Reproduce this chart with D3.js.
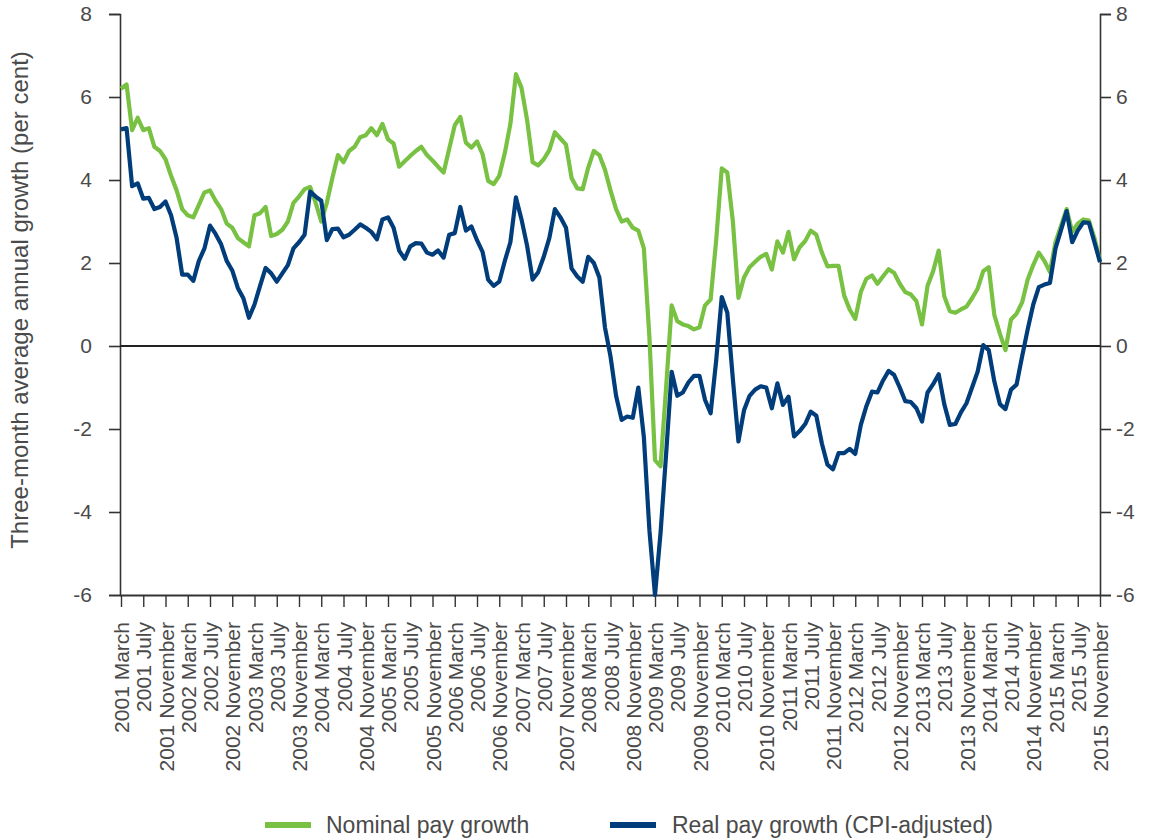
<!DOCTYPE html>
<html><head><meta charset="utf-8">
<script src="https://cdn.jsdelivr.net/npm/d3@7"></script>
<style>
html,body{margin:0;padding:0;background:#fff;}
text{font-family:"Liberation Sans",Arial,sans-serif;fill:#4a4a4a;}
</style></head>
<body><svg id="chart" width="1169" height="838"></svg>
<script>
// ---- data ----
const monthNames = ["January","February","March","April","May","June","July","August","September","October","November","December"];
const startYear = 2001, startMonth = 2; // March 2001
const nominal = [6.2,6.3,5.2,5.5,5.2,5.25,4.8,4.7,4.5,4.1,3.75,3.3,3.15,3.1,3.4,3.7,3.75,3.5,3.3,2.95,2.85,2.6,2.5,2.4,3.15,3.2,3.35,2.65,2.7,2.8,
3.0,3.45,3.6,3.78,3.83,3.45,3.0,3.45,4.05,4.6,4.43,4.7,4.8,5.03,5.08,5.25,5.08,5.35,4.98,4.88,4.32,4.45,4.58,4.7,4.8,4.6,4.47,4.32,4.18,4.75,
5.32,5.52,4.9,4.78,4.93,4.62,3.98,3.9,4.1,4.65,5.35,6.55,6.22,5.45,4.43,4.35,4.5,4.72,5.15,5.0,4.85,4.05,3.8,3.78,4.3,4.7,4.6,4.25,3.75,3.3,
3.0,3.05,2.85,2.78,2.35,0.2,-2.75,-2.9,-1.0,0.98,0.6,0.52,0.48,0.4,0.45,0.98,1.12,2.55,4.28,4.18,3.0,1.16,1.65,1.9,2.03,2.15,2.22,1.84,2.52,2.25,
2.75,2.09,2.38,2.53,2.78,2.68,2.25,1.92,1.93,1.93,1.22,0.88,0.65,1.3,1.62,1.7,1.5,1.68,1.85,1.76,1.5,1.3,1.24,1.08,0.52,1.45,1.8,2.3,1.2,0.84,
0.8,0.88,0.95,1.15,1.38,1.8,1.9,0.75,0.3,-0.1,0.64,0.78,1.05,1.6,1.95,2.25,2.05,1.78,2.5,2.9,3.3,2.75,2.95,3.05,3.02,2.6,2.05];
const real = [5.22,5.25,3.85,3.92,3.55,3.57,3.3,3.35,3.48,3.15,2.6,1.72,1.72,1.57,2.05,2.35,2.9,2.7,2.45,2.05,1.82,1.4,1.15,0.68,1.0,1.45,1.88,1.75,1.55,1.75,
1.95,2.35,2.5,2.68,3.72,3.6,3.5,2.55,2.82,2.83,2.62,2.68,2.8,2.93,2.85,2.75,2.57,3.05,3.1,2.85,2.3,2.1,2.4,2.48,2.47,2.25,2.2,2.3,2.13,2.68,
2.72,3.35,2.78,2.88,2.55,2.27,1.6,1.45,1.55,2.05,2.5,3.58,3.05,2.42,1.6,1.78,2.15,2.6,3.3,3.1,2.85,1.87,1.68,1.55,2.15,2.0,1.65,0.45,-0.25,-1.2,
-1.78,-1.7,-1.73,-1.0,-2.2,-4.45,-6.0,-4.5,-2.6,-0.62,-1.2,-1.12,-0.88,-0.72,-0.72,-1.3,-1.62,-0.35,1.18,0.8,-0.8,-2.3,-1.55,-1.2,-1.05,-0.97,-1.0,-1.5,-0.9,-1.42,
-1.22,-2.18,-2.05,-1.88,-1.58,-1.68,-2.35,-2.86,-2.97,-2.58,-2.58,-2.48,-2.6,-1.9,-1.45,-1.1,-1.12,-0.83,-0.6,-0.7,-1.0,-1.33,-1.35,-1.5,-1.82,-1.12,-0.92,-0.68,-1.4,-1.9,
-1.88,-1.6,-1.38,-1.0,-0.62,0.02,-0.1,-0.85,-1.4,-1.52,-1.05,-0.93,-0.25,0.4,1.0,1.42,1.48,1.52,2.35,2.8,3.25,2.5,2.78,2.98,2.97,2.5,2.02];
const months = nominal.map((_, i) => {
  const m = startMonth + i;
  return (startYear + Math.floor(m / 12)) + " " + monthNames[m % 12];
});
const tickLabels = months.filter((_, i) => i % 4 === 0);
const yTicks = [-6,-4,-2,0,2,4,6,8];
const seriesNames = ["Nominal pay growth","Real pay growth (CPI-adjusted)"];
const colors = ["#78c142","#003d7a"];

// ---- layout ----
const svg = d3.select("#chart");
const pLeft = 120, pRight = 1100, pTop = 14, pBottom = 595;
const x = d3.scalePoint().domain(months).range([pLeft + 1, pRight]);
const y = d3.scaleLinear().domain([-6, 8]).range([pBottom, pTop]);
const fmt = d => String(d);

// left axis
const gL = svg.append("g").attr("transform", `translate(${pLeft},0)`)
  .call(d3.axisLeft(y).tickValues(yTicks).tickSize(11).tickPadding(17).tickFormat(fmt));
// right axis
const gR = svg.append("g").attr("transform", `translate(${pRight},0)`)
  .call(d3.axisRight(y).tickValues(yTicks).tickSize(11).tickPadding(5).tickFormat(fmt));
[gL, gR].forEach(g => {
  g.select(".domain").attr("stroke", "#333").attr("stroke-width", 1.6);
  g.selectAll(".tick line").attr("stroke", "#333").attr("stroke-width", 1.6);
  g.selectAll(".tick text").style("font-size", "21px").attr("fill", "#4a4a4a");
});

// bottom axis
const gB = svg.append("g").attr("transform", `translate(0,${pBottom})`)
  .call(d3.axisBottom(x).tickValues(tickLabels).tickSize(12).tickSizeOuter(0));
gB.select(".domain").attr("stroke", "#333").attr("stroke-width", 2.2)
  .attr("d", `M${pLeft},0.5H${pRight}`);
gB.selectAll(".tick line").attr("stroke", "#333").attr("stroke-width", 1.4);
gB.selectAll(".tick text")
  .style("font-size", "21px").attr("fill", "#4a4a4a")
  .attr("transform", "rotate(-90)")
  .attr("text-anchor", "end")
  .attr("dy", "0.36em")
  .attr("x", -27).attr("y", 0);

// zero line
svg.append("line").attr("x1", pLeft).attr("x2", pRight)
  .attr("y1", y(0)).attr("y2", y(0))
  .attr("stroke", "#222").attr("stroke-width", 2);

// lines
const line = d3.line().x((d, i) => x(months[i])).y(d => y(d));
[nominal, real].forEach((s, k) => {
  svg.append("path").datum(s).attr("d", line)
    .attr("fill", "none").attr("stroke", colors[k])
    .attr("stroke-width", 4.2).attr("stroke-linejoin", "round");
});

// y title
svg.append("text")
  .attr("transform", `translate(28,300) rotate(-90)`)
  .attr("text-anchor", "middle")
  .style("font-size", "24px")
  .text("Three-month average annual growth (per cent)");

// legend
const legendItems = [{x: 265, tx: 326}, {x: 610, tx: 672}];
legendItems.forEach((p, k) => {
  svg.append("line").attr("x1", p.x).attr("x2", p.x + 46).attr("y1", 825).attr("y2", 825)
    .attr("stroke", colors[k]).attr("stroke-width", 6);
  svg.append("text").attr("x", p.tx).attr("y", 833).style("font-size", "23px").text(seriesNames[k]);
});
</script></body></html>
